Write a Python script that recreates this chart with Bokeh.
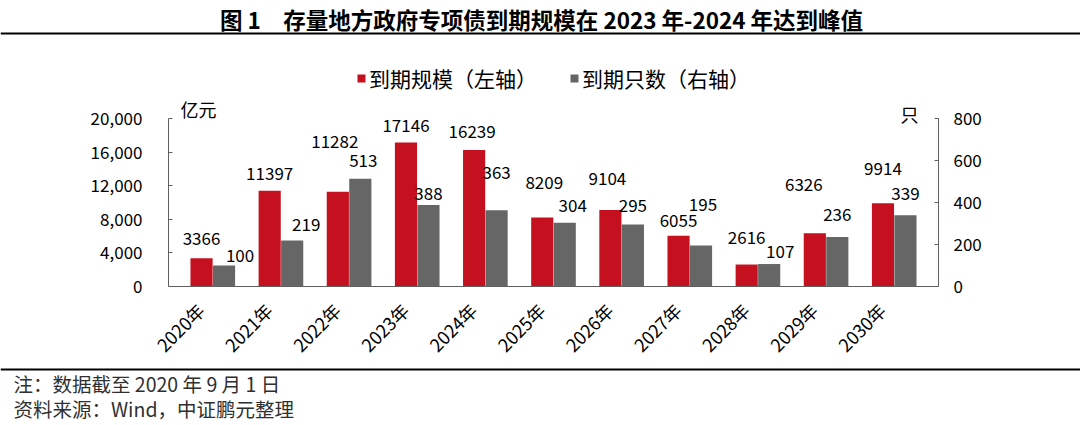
import math
from bokeh.plotting import figure
from bokeh.models import (ColumnDataSource, Range1d, LinearAxis, FixedTicker,
                          NumeralTickFormatter, Legend, LegendItem)
from bokeh.transform import dodge
from bokeh.core.properties import value
from bokeh.embed import file_html
from bokeh.resources import INLINE

# ---------------- data ----------------
years = ["2020年", "2021年", "2022年", "2023年", "2024年", "2025年",
         "2026年", "2027年", "2028年", "2029年", "2030年"]
scale_vals = [3366, 11397, 11282, 17146, 16239, 8209, 9104, 6055, 2616, 6326, 9914]   # 亿元
count_vals = [100, 219, 513, 388, 363, 304, 295, 195, 107, 236, 339]                   # 只
left_ticks = [0, 4000, 8000, 12000, 16000, 20000]
right_ticks = [0, 200, 400, 600, 800]

title_text = "图 1\u2003存量地方政府专项债到期规模在 2023 年-2024 年达到峰值"
legend_labels = ["到期规模（左轴）", "到期只数（右轴）"]
note_text = "注：数据截至 2020 年 9 月 1 日"
source_text = "资料来源：Wind，中证鹏元整理"

# label placement styling (pixels above bar top / horizontal nudges)
red_dy = [20, 17, 50, 17, 19, 35, 32, 15, 27, 49, 35]
red_dx = [0, 0, -3, 0, -2, 2, -3, 0, 0, -11, 0]
gray_dy = [10, 16, 18, 12, 38, 17, 19, 41, 13, 22, 22]
gray_dx = [16, 14, 3, 0, 0, 8, 0, 2, 11, 0, 0]

FONT = "Noto Sans CJK SC"
RED = "#C5101F"
GRAY = "#666666"
AXIS = "#5f5f5f"

# ---------------- layout (canvas pixels) ----------------
W, H = 1080, 425
FL, FR, FB = 168, 938, 286      # chart axes on the canvas
Y_AXIS_TOP = 118                # where 20000 / 800 sit
X0, X1 = -0.65, 10.65           # category space between the two value axes

def xd(px):
    return X0 + (px - FL) * (X1 - X0) / (FR - FL)

def yd(py):
    return (FB - py) * 20000.0 / (FB - Y_AXIS_TOP)

R2 = 800 / 20000.0

idx = list(range(len(years)))
src = ColumnDataSource(dict(
    x=idx, scale=scale_vals, count=count_vals,
    scale_txt=[str(v) for v in scale_vals],
    count_txt=[str(v) for v in count_vals],
    rdy=[-d for d in red_dy], rdx=red_dx,
    gdy=[-d for d in gray_dy], gdx=gray_dx,
))

p = figure(width=W, height=H, x_range=Range1d(xd(0), xd(W)), y_range=Range1d(yd(H), yd(0)),
           min_border=0, toolbar_location=None, output_backend="svg",
           outline_line_color=None, y_axis_location=None)
p.grid.visible = False
p.extra_y_ranges = {"right": Range1d(yd(H) * R2, yd(0) * R2)}

bw = 0.325
r1 = p.vbar(x=dodge("x", -0.165, range=p.x_range), top="scale", width=bw, source=src,
            fill_color=RED, line_color=None)
r2 = p.vbar(x=dodge("x", 0.165, range=p.x_range), top="count", width=bw, source=src,
            fill_color=GRAY, line_color=None, y_range_name="right")

lab_font = "17px"
p.text(x=dodge("x", -0.165, range=p.x_range), y="scale", text="scale_txt", source=src,
       x_offset="rdx", y_offset="rdy", text_align="center", text_baseline="middle",
       text_font=value(FONT), text_font_size=lab_font, text_color="#000000")
p.text(x=dodge("x", 0.165, range=p.x_range), y="count", text="count_txt", source=src,
       x_offset="gdx", y_offset="gdy", text_align="center", text_baseline="middle",
       text_font=value(FONT), text_font_size=lab_font, text_color="#000000",
       y_range_name="right")

# unit labels
p.text(x=[X0], y=[20000], text=["亿元"], x_offset=12, y_offset=-10,
       text_align="left", text_baseline="middle",
       text_font=value(FONT), text_font_size="18px", text_color="#000000")
p.text(x=[X1], y=[20000], text=["只"], x_offset=-20, y_offset=-5,
       text_align="right", text_baseline="middle",
       text_font=value(FONT), text_font_size="18px", text_color="#000000")

# axes
def style_axis(ax):
    ax.axis_line_color = AXIS
    ax.major_tick_line_color = AXIS
    ax.minor_tick_line_color = None
    ax.major_label_text_font = FONT
    ax.major_label_text_font_size = "17px"
    ax.major_label_text_color = "#000000"

yl = LinearAxis(ticker=FixedTicker(ticks=left_ticks), bounds=(0, 20000), fixed_location=X0,
                formatter=NumeralTickFormatter(format="0,0"))
style_axis(yl)
yl.major_tick_in = 4
yl.major_tick_out = 0
yl.major_label_standoff = 26
p.add_layout(yl, "left")

yr = LinearAxis(y_range_name="right", ticker=FixedTicker(ticks=right_ticks), bounds=(0, 800),
                fixed_location=X1)
style_axis(yr)
yr.major_tick_in = 4
yr.major_tick_out = 0
yr.major_label_standoff = 15
p.add_layout(yr, "right")

lab_shift = -0.18
xticks = [i + lab_shift for i in idx]
xa = p.xaxis[0]
xa.fixed_location = 0
xa.bounds = (X0, X1)
xa.ticker = FixedTicker(ticks=xticks)
xa.major_label_overrides = {t: y for t, y in zip(xticks, years)}
style_axis(xa)
xa.major_tick_line_color = None
xa.major_label_orientation = math.pi / 4
xa.major_label_text_font_size = "18px"
xa.major_label_standoff = 14

legend = Legend(items=[LegendItem(label=legend_labels[0], renderers=[r1]),
                       LegendItem(label=legend_labels[1], renderers=[r2])],
                orientation="horizontal", location=(356, 332),
                border_line_color=None, background_fill_alpha=0,
                padding=0, margin=0, spacing=32,
                glyph_width=10, glyph_height=10, label_standoff=3, label_height=20,
                label_text_font=FONT, label_text_font_size="21px", label_text_color="#000000")
p.add_layout(legend)

# ---------------- title, rules and footer ----------------
p.text(x=[xd(541)], y=[yd(18)], text=[title_text], text_align="center",
       text_baseline="middle", text_font=value(FONT), text_font_style="bold",
       text_font_size="22.5px", text_color="#000000")
p.segment(x0=[xd(0), xd(0)], x1=[xd(W), xd(W)], y0=[yd(33), yd(369)], y1=[yd(33), yd(369)],
          line_color="#000000", line_width=2)
p.text(x=[xd(13), xd(13)], y=[yd(383), yd(408)], text=[note_text, source_text],
       text_align="left", text_baseline="middle", text_font=value(FONT),
       text_font_size="19.5px", text_color="#303030")

open("out.html", "w").write(file_html(p, INLINE))
